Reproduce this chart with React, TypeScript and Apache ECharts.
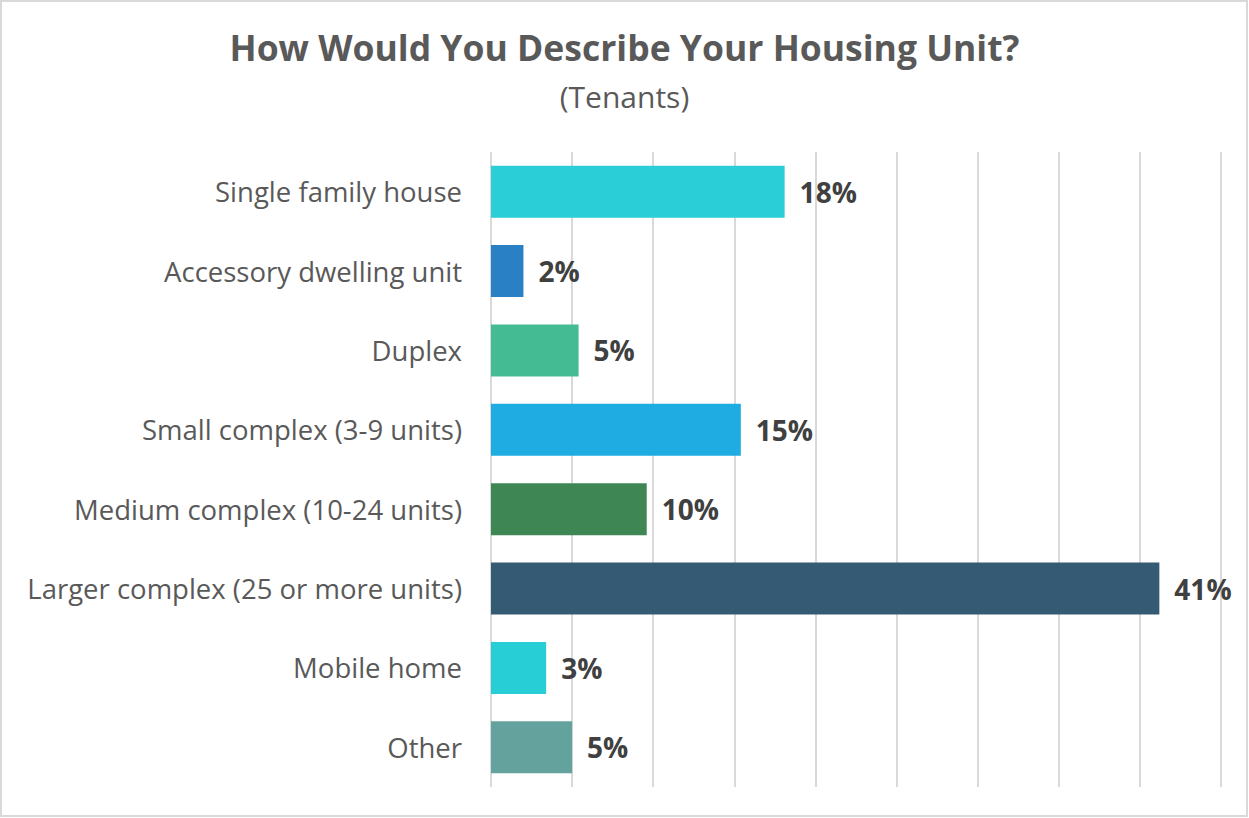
import React, { useEffect, useRef } from "react";
import * as echarts from "echarts";

const categories = [
  "Single family house",
  "Accessory dwelling unit",
  "Duplex",
  "Small complex (3-9 units)",
  "Medium complex (10-24 units)",
  "Larger complex (25 or more units)",
  "Mobile home",
  "Other",
];
const values = [18.1, 2.0, 5.4, 15.4, 9.6, 41.2, 3.4, 5.0];
const barColors = ["#29CED6", "#2A80C5", "#45BB94", "#1FACE3", "#3E8754", "#345B73", "#28CED6", "#64A39D"];
const titleText = "How Would You Describe Your Housing Unit?";
const subtitleText = "(Tenants)";

export default function App() {
  const ref = useRef<HTMLDivElement>(null);
  useEffect(() => {
    if (!ref.current) return;
    const chart = echarts.init(ref.current, null, { renderer: "svg" });
    const font = "'Open Sans', 'Noto Sans', sans-serif";
    chart.setOption({
      animation: false,
      backgroundColor: "#ffffff",
      title: [
        {
          text: titleText,
          left: "center",
          top: 29,
          padding: 0,
          textStyle: { fontFamily: font, fontSize: 35.5, fontWeight: "bold", color: "#595959", lineHeight: 35.5 },
        },
        {
          text: subtitleText,
          left: "center",
          top: 81,
          padding: 0,
          textStyle: { fontFamily: font, fontSize: 30, fontWeight: "normal", color: "#595959", lineHeight: 30 },
        },
      ],
      graphic: [
        {
          type: "rect",
          shape: { x: 1, y: 1, width: 1246, height: 815 },
          style: { fill: "none", stroke: "#d9d9d9", lineWidth: 2 },
          silent: true,
          z: 100,
        },
      ],
      grid: { left: 491, right: 28, top: 152, bottom: 31, containLabel: false },
      xAxis: {
        type: "value",
        min: 0,
        max: 45,
        interval: 5,
        axisLabel: { show: false },
        axisLine: { show: false },
        axisTick: { show: false },
        splitLine: { show: true, lineStyle: { color: "#d9d9d9", width: 2 } },
      },
      yAxis: {
        type: "category",
        data: categories,
        inverse: true,
        axisLine: { show: false },
        axisTick: { show: false },
        axisLabel: { fontFamily: font, fontSize: 27.5, color: "#595959", margin: 29 },
      },
      series: [
        {
          type: "bar",
          data: values.map((v, i) => ({ value: v, itemStyle: { color: barColors[i] } })),
          barWidth: 52,
          label: {
            show: true,
            position: "right",
            distance: 15,
            fontFamily: font,
            fontSize: 28,
            fontWeight: "bold",
            color: "#404040",
            formatter: (p: any) => Math.round(p.value) + "%",
          },
        },
      ],
    });
    return () => chart.dispose();
  }, []);
  return <div ref={ref} style={{ position: "fixed", left: 0, top: 0, width: 1249, height: 818 }} />;
}
